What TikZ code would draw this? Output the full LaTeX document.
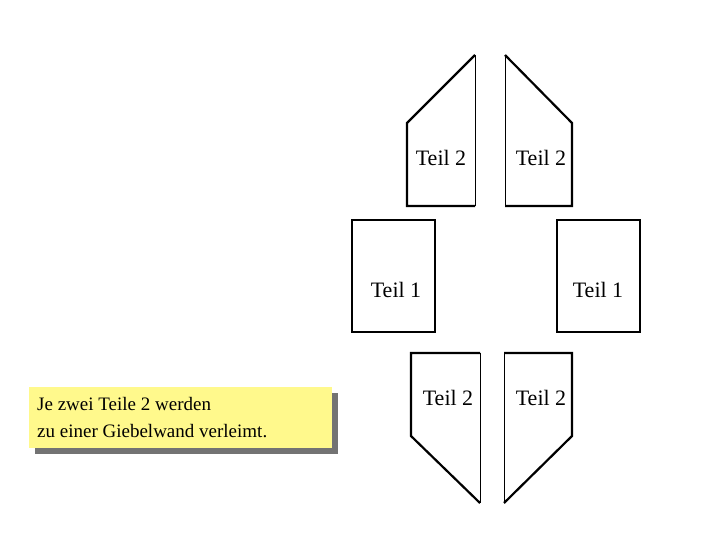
\documentclass[tikz,border=0pt]{standalone}
\usepackage{fontspec}
\setmainfont{Liberation Serif}
\begin{document}
\begin{tikzpicture}[x=1pt,y=-1pt,
 thick/.style={line width=2.2pt,line join=miter},
 thin/.style={line width=0.9pt},
 lbl/.style={font=\fontsize{22}{24}\selectfont,inner sep=0pt}]
\useasboundingbox (0,0) rectangle (720,540);
% upper pieces
\draw[thick] (475,55) -- (407,123) -- (407,206) -- (475,206);
\draw[thin] (475,55) -- (475,206);
\draw[thick] (505,55) -- (572,123) -- (572,206) -- (505,206);
\draw[thin] (505,55) -- (505,206);
\node[lbl] (t2a) at (441,158) {Teil 2};
\node[lbl] (t2b) at (541,158) {Teil 2};
% Teil 1
\draw[thick] (352,220) rectangle (435,332);
\draw[thick] (557,220) rectangle (640,332);
\node[lbl] (t1a) at (396,290) {Teil 1};
\node[lbl] (t1b) at (598,290) {Teil 1};
% lower pieces
\draw[thick] (480,353) -- (411,353) -- (411,436) -- (480,503);
\draw[thin] (480,353) -- (480,503);
\draw[thick] (504,353) -- (572,353) -- (572,436) -- (504,503);
\draw[thin] (504,353) -- (504,503);
\node[lbl] (t2c) at (448,398) {Teil 2};
\node[lbl] (t2d) at (541,398) {Teil 2};
% note
\fill[gray!90!black] (35,393) rectangle (338,454);
\fill[yellow!45] (29,387) rectangle (332,448);
\node[anchor=west,align=left,inner sep=0pt,font=\fontsize{19}{27}\selectfont] (note) at (37,418) {Je zwei Teile 2 werden\\zu einer Giebelwand verleimt.};
\end{tikzpicture}
\end{document}
